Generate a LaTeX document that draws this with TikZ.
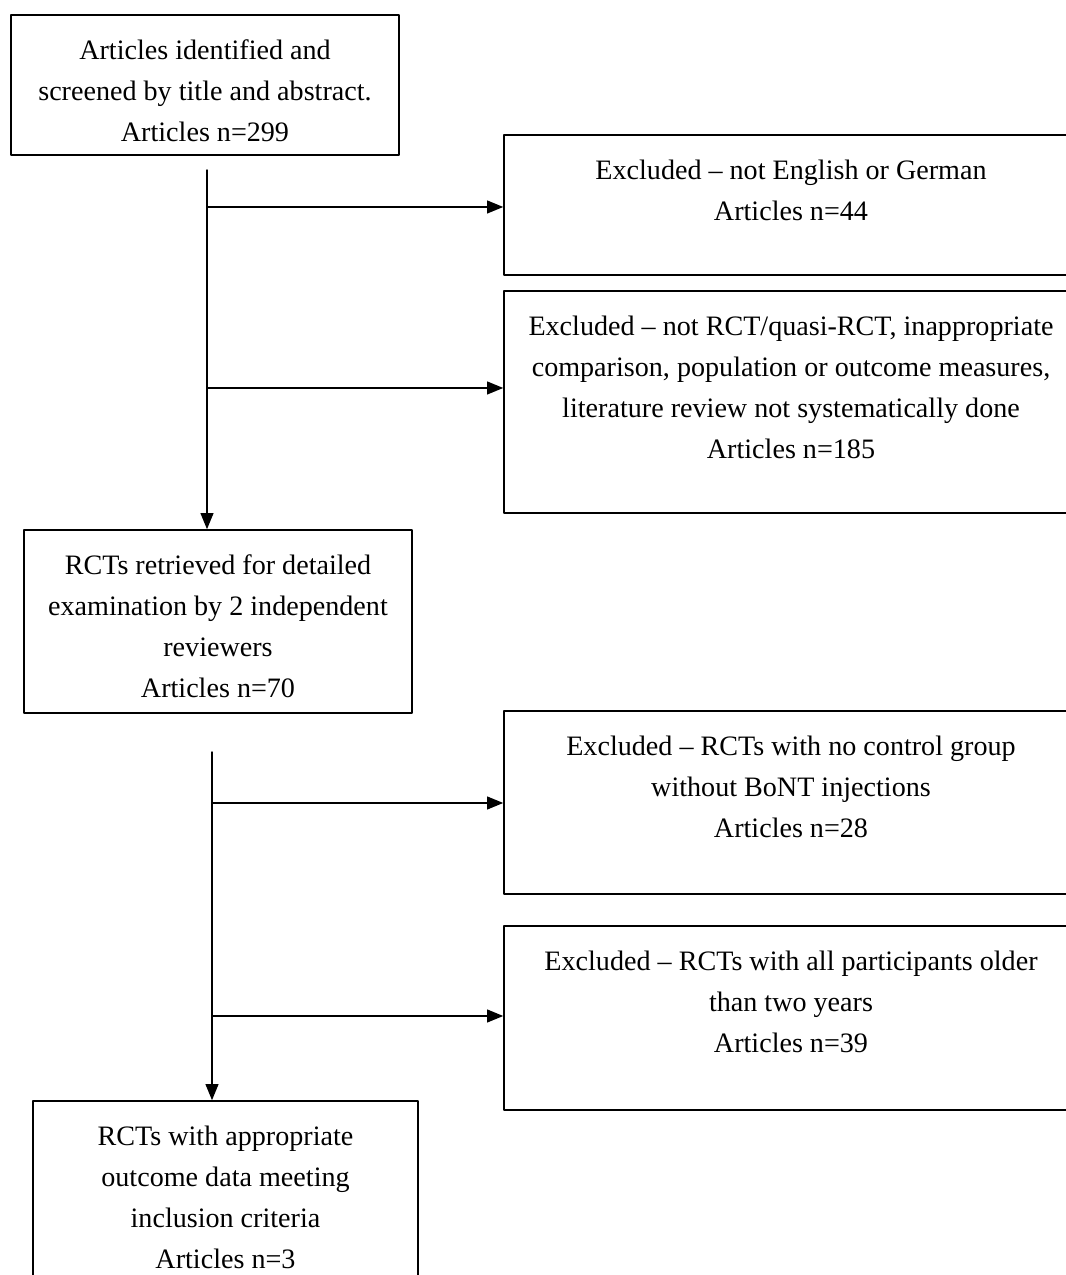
\documentclass[tikz,border=0pt]{standalone}
\usepackage{fontspec}
\setmainfont{Liberation Serif}
\usetikzlibrary{arrows.meta}
\newcommand{\toptext}[3]{\parbox[c][#1][t]{#2}{\centering #3}}

\begin{document}
\begin{tikzpicture}[line cap=round,line join=round,>={Triangle[length=4mm,width=3.2mm]},x=1cm,
y=1cm,boite/.style={draw,line width=1.1pt,inner sep=0pt,font=\fontsize{20}{29.2}\selectfont},
fleche/.style={->,line width=1pt}]
\useasboundingbox (0,0) rectangle (26.65,31.875);
\clip (0,0) rectangle (26.65,31.875);
% Boxes on the left
\node[boite,minimum width=9.7cm,minimum height=3.5cm] (ident) at (5.125,29.75)
{\toptext{2.25cm}{9.7cm}{Articles identified and\\ screened by title and abstract.\\ Articles n=299}};
\node[boite,minimum width=9.7cm,minimum height=4.575cm] (retr) at (5.45,16.3375)
{\toptext{3.325cm}{9.7cm}{RCTs retrieved for detailed\\ examination by 2 independent\\ reviewers\\ Articles n=70}};
\node[boite,minimum width=9.625cm,minimum height=4.575cm] (incl) at (5.6375,2.0625)
{\toptext{3.325cm}{9.625cm}{RCTs with appropriate\\ outcome data meeting\\ inclusion criteria\\ Articles n=3}};
% Boxes on the right
\node[boite,minimum width=14.35cm,minimum height=3.5cm] (lang) at (19.775,26.75)
{\toptext{2.25cm}{14.35cm}{Excluded \textendash{} not English or German\\ Articles n=44}};
\node[boite,minimum width=14.35cm,minimum height=5.55cm] (design) at (19.775,21.825)
{\toptext{4.3cm}{14.35cm}{Excluded \textendash{} not RCT/quasi-RCT, inappropriate\\ comparison, population or outcome measures,\\ literature review not systematically done\\ Articles n=185}};
\node[boite,minimum width=14.35cm,minimum height=4.575cm] (nocontrol) at (19.775,11.8125)
{\toptext{3.325cm}{14.35cm}{Excluded \textendash{} RCTs with no control group\\ without BoNT injections\\ Articles n=28}};
\node[boite,minimum width=14.35cm,minimum height=4.6cm] (older) at (19.775,6.425)
{\toptext{3.35cm}{14.35cm}{Excluded \textendash{} RCTs with all participants older\\ than two years\\ Articles n=39}};
% Vertical lines and arrows
\coordinate (t1) at (5.175,27.625);
\coordinate (r1) at (5.175,26.7);
\coordinate (r2) at (5.175,22.175);
\draw[fleche] (t1) -- (t1 |- retr.north);
\draw[fleche] (r1) -- (r1 -| lang.west);
\draw[fleche] (r2) -- (r2 -| design.west);
\coordinate (t2) at (5.3,13.075);
\coordinate (r3) at (5.3,11.8);
\coordinate (r4) at (5.3,6.475);
\draw[fleche] (t2) -- (t2 |- incl.north);
\draw[fleche] (r3) -- (r3 -| nocontrol.west);
\draw[fleche] (r4) -- (r4 -| older.west);
\end{tikzpicture}
\end{document}
